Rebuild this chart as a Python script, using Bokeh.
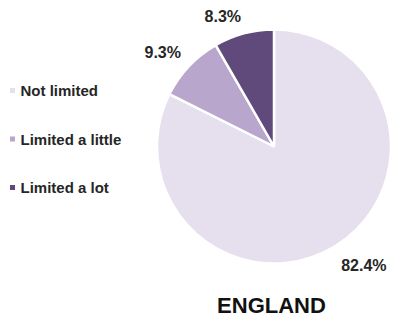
import math
from bokeh.plotting import figure
from bokeh.models import Range1d, ColumnDataSource
from bokeh.core.properties import value
from bokeh.embed import file_html
from bokeh.resources import INLINE

categories = ["Not limited", "Limited a little", "Limited a lot"]
shares = [82.4, 9.3, 8.3]
pct_labels = ["82.4%", "9.3%", "8.3%"]
colors = ["#E6DFEE", "#B9A6CC", "#604A7B"]
title_text = "ENGLAND"

W, H = 393, 320
FONT = "Liberation Sans"
TXT = "#262626"

p = figure(width=W, height=H, output_backend="svg", toolbar_location=None,
           x_range=Range1d(0, W), y_range=Range1d(0, H), min_border=0)
p.axis.visible = False
p.grid.visible = False
p.outline_line_color = None
p.background_fill_color = "white"

cx, cy, R = 273.5, 174, 117
total = sum(shares)
starts, ends, mids = [], [], []
cum = 0.0
for s in shares:
    a0 = 90 - cum / total * 360
    cum += s
    a1 = 90 - cum / total * 360
    starts.append(a1)
    ends.append(a0)
    mids.append((a0 + a1) / 2)

src = ColumnDataSource(dict(start=starts, end=ends, color=colors))
p.wedge(x=cx, y=cy, radius=R, radius_units="screen", start_angle="start", end_angle="end",
        start_angle_units="deg", end_angle_units="deg", direction="anticlock",
        fill_color="color", line_color="white", line_width=2.5, source=src)

# percentage labels
lx, ly, la, lb = [], [], [], []
D = 128
for m in mids:
    r = math.radians(m)
    lx.append(cx + D * math.cos(r))
    ly.append(cy + D * math.sin(r) - 2)
    la.append("left" if math.cos(r) >= 0 else "right")
    lb.append("top" if math.sin(r) < 0 else "bottom")
lsrc = ColumnDataSource(dict(x=lx, y=ly, t=pct_labels, a=la, b=lb))
p.text(x="x", y="y", text="t", text_align="a", text_baseline="b", source=lsrc,
       text_font=value(FONT), text_font_style="bold", text_font_size="16px", text_color=TXT)

# legend
leg_y = [230 - i * 48.5 for i in range(len(categories))]
p.scatter(x=[12] * len(categories), y=leg_y, marker="square", size=5, color=colors, line_color=None)
p.text(x=[20] * len(categories), y=leg_y, text=categories, text_baseline="middle",
       text_font=value(FONT), text_font_style="bold", text_font_size="15px", text_color=TXT)

# title
p.text(x=[271], y=[15], text=[title_text], text_align="center", text_baseline="middle",
       text_font=value(FONT), text_font_style="bold", text_font_size="22px", text_color="#111111")

open("out.html", "w").write(file_html(p, INLINE))
